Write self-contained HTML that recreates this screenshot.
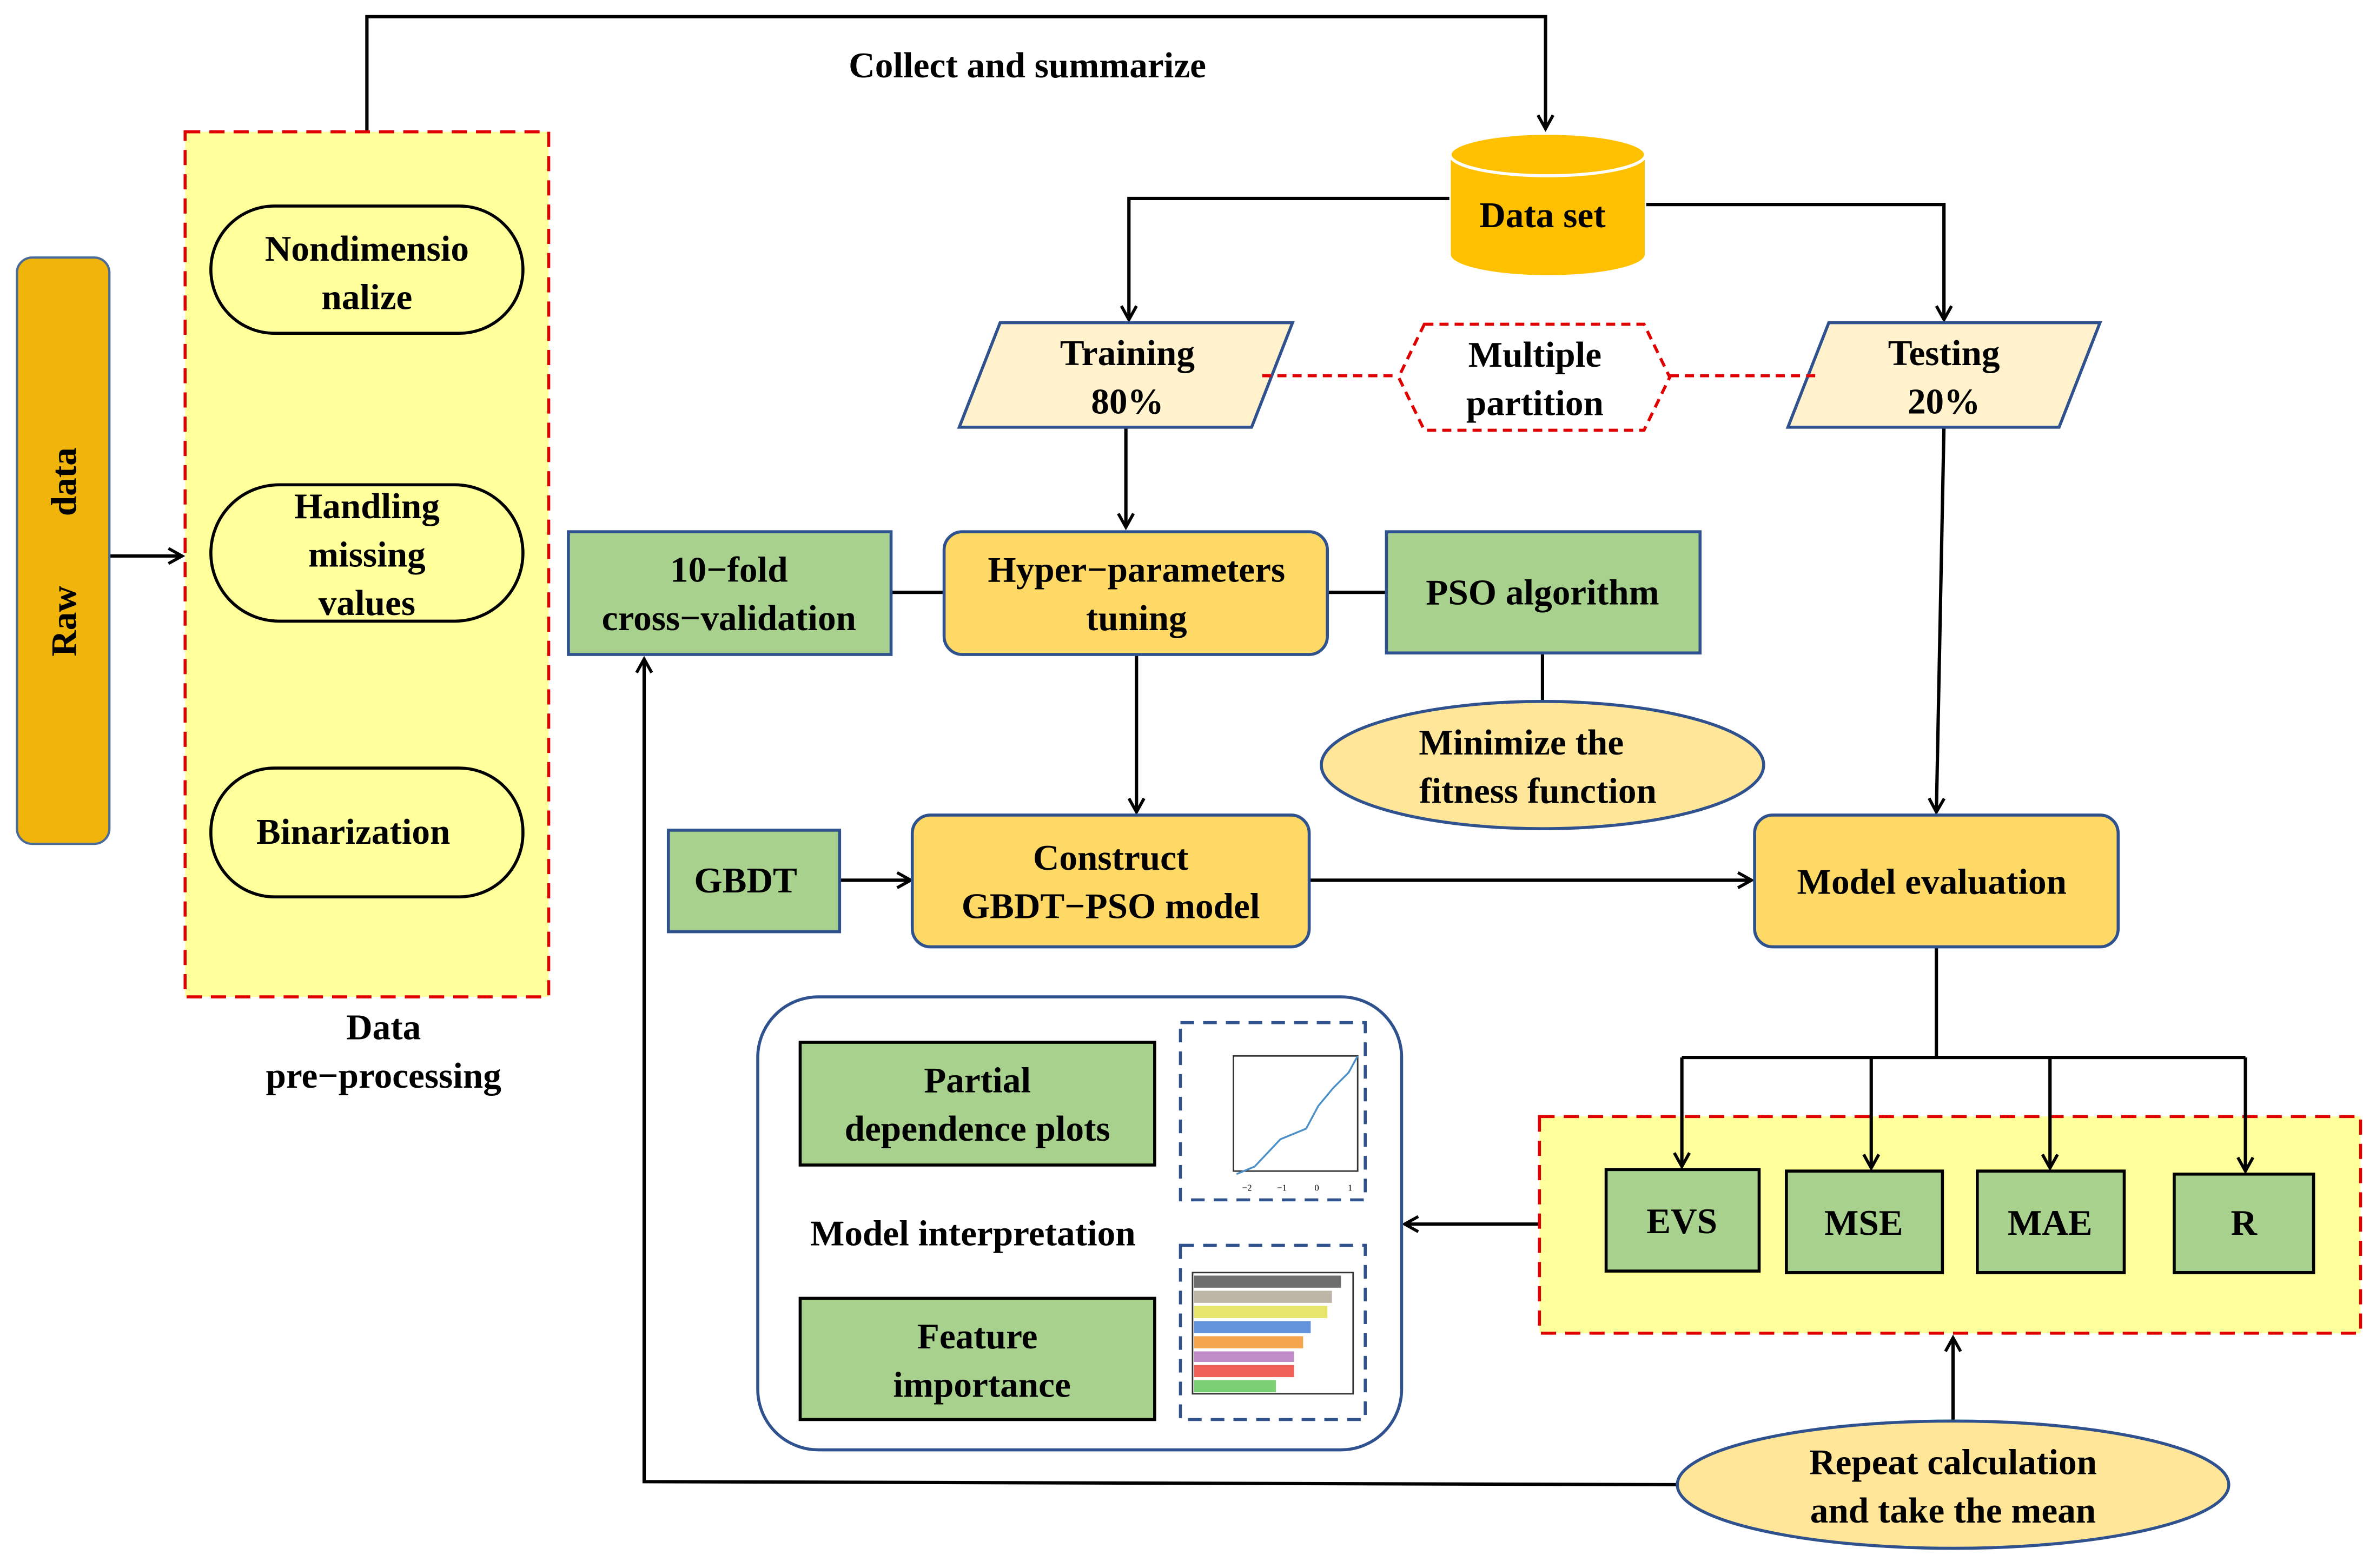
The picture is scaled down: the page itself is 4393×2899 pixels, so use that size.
<!DOCTYPE html>
<html><head><meta charset="utf-8"><style>
html,body{margin:0;padding:0;background:#fff;}
svg{display:block;}
text{font-family:"Liberation Serif",serif;font-weight:bold;font-size:24px;fill:#000;text-anchor:middle;}
</style></head><body>
<svg width="4393" height="2899" viewBox="0 0 1568 1035" xmlns="http://www.w3.org/2000/svg">
<defs>
<marker id="a" markerWidth="12" markerHeight="12" refX="10" refY="6" orient="auto" markerUnits="userSpaceOnUse">
<path d="M1,1 L10,6 L1,11" fill="none" stroke="#000" stroke-width="2"/></marker>
</defs>
<rect width="1568" height="1035" fill="#fff"/>
<g stroke="#000" stroke-width="2.2" fill="none">
<path d="M242,87 V11 H1020 V85" marker-end="url(#a)"/>
<path d="M72,367 H120" marker-end="url(#a)"/>
<path d="M957,131 H745 V211" marker-end="url(#a)"/>
<path d="M1086,135 H1283 V211" marker-end="url(#a)"/>
<path d="M743,282 V348" marker-end="url(#a)"/>
<path d="M750,432 V536" marker-end="url(#a)"/>
<path d="M588,391 H623 M876,391 H915 M1018,431 V463"/>
<path d="M554,581 H601" marker-end="url(#a)"/>
<path d="M864,581 H1156" marker-end="url(#a)"/>
<path d="M1283,282 L1278,536" marker-end="url(#a)"/>
<path d="M1278,625 V698 M1110,698 H1482"/>
<path d="M1016,808 H927" marker-end="url(#a)"/>
<path d="M1289,938 V883" marker-end="url(#a)"/>
<path d="M1107,980 L425,978 V435" marker-end="url(#a)"/>
</g>
<text x="678" y="51">Collect and summarize</text>
<!-- raw data -->
<rect x="11" y="170" width="61" height="387" rx="10" fill="#F0B40A" stroke="#4A6A9A" stroke-width="1.5"/>
<text transform="translate(50,410) rotate(-90)">Raw</text>
<text transform="translate(50,318) rotate(-90)">data</text>
<!-- preprocessing -->
<rect x="122" y="87" width="240" height="571" fill="#FFFF9C" stroke="#E00000" stroke-width="2" stroke-dasharray="10,6"/>
<rect x="139" y="136" width="206" height="84" rx="42" fill="#FFFF9C" stroke="#000" stroke-width="2"/>
<text x="242" y="172">Nondimensio</text><text x="242" y="204">nalize</text>
<rect x="139" y="320" width="206" height="90" rx="45" fill="#FFFF9C" stroke="#000" stroke-width="2"/>
<text x="242" y="342">Handling</text><text x="242" y="374">missing</text><text x="242" y="406">values</text>
<rect x="139" y="507" width="206" height="85" rx="42" fill="#FFFF9C" stroke="#000" stroke-width="2"/>
<text x="233" y="557">Binarization</text>
<text x="253" y="686">Data</text><text x="253" y="718">pre−processing</text>
<!-- data set -->
<path d="M957,102 V168 A64,14 0 0 0 1086,168 V102" fill="#FFC000" stroke="#fff" stroke-width="1"/>
<ellipse cx="1021.5" cy="102" rx="64.5" ry="14" fill="#FFC000" stroke="#fff" stroke-width="2"/>
<text x="1018" y="150">Data  set</text>
<!-- training/testing -->
<polygon points="660,213 853,213 826,282 633,282" fill="#FFF2CC" stroke="#2F528F" stroke-width="2"/>
<text x="744" y="241">Training</text><text x="744" y="273">80%</text>
<polygon points="1207,213 1386,213 1359,282 1180,282" fill="#FFF2CC" stroke="#2F528F" stroke-width="2"/>
<text x="1283" y="241">Testing</text><text x="1283" y="273">20%</text>
<path d="M833,248 H923 M1102,248 H1200" stroke="#E00000" stroke-width="2" stroke-dasharray="6,4"/>
<polygon points="940,214 1085,214 1102,249 1085,284 940,284 923,249" fill="#fff" stroke="#E00000" stroke-width="2" stroke-dasharray="6,4"/>
<text x="1013" y="242">Multiple</text><text x="1013" y="274">partition</text>
<!-- middle row -->
<rect x="375" y="351" width="213" height="81" fill="#A9D18E" stroke="#2F528F" stroke-width="2"/>
<text x="481" y="384">10−fold</text><text x="481" y="416">cross−validation</text>
<rect x="623" y="351" width="253" height="81" rx="12" fill="#FFD966" stroke="#2F528F" stroke-width="2"/>
<text x="750" y="384">Hyper−parameters</text><text x="750" y="416">tuning</text>
<rect x="915" y="351" width="207" height="80" fill="#A9D18E" stroke="#2F528F" stroke-width="2"/>
<text x="1018" y="399">PSO algorithm</text>
<ellipse cx="1018" cy="505" rx="146" ry="42" fill="#FFE699" stroke="#2F528F" stroke-width="2"/>
<text x="1004" y="498">Minimize the</text><text x="1015" y="530">fitness function</text>
<rect x="441" y="548" width="113" height="67" fill="#A9D18E" stroke="#2F528F" stroke-width="2"/>
<text x="492" y="589">GBDT</text>
<rect x="602" y="538" width="262" height="87" rx="12" fill="#FFD966" stroke="#2F528F" stroke-width="2"/>
<text x="733" y="574">Construct</text><text x="733" y="606">GBDT−PSO model</text>
<rect x="1158" y="538" width="240" height="87" rx="12" fill="#FFD966" stroke="#2F528F" stroke-width="2"/>
<text x="1275" y="590">Model evaluation</text>
<!-- metrics -->
<rect x="1016" y="737" width="542" height="143" fill="#FFFF9C" stroke="#E00000" stroke-width="2" stroke-dasharray="10,6"/>
<g stroke="#000" stroke-width="2.2" fill="none">
<path d="M1110,698 V770" marker-end="url(#a)"/>
<path d="M1235,698 V771" marker-end="url(#a)"/>
<path d="M1353,698 V771" marker-end="url(#a)"/>
<path d="M1482,698 V773" marker-end="url(#a)"/>
</g>
<rect x="1060" y="772" width="101" height="67" fill="#A9D18E" stroke="#000" stroke-width="2"/>
<text x="1110" y="814">EVS</text>
<rect x="1179" y="773" width="103" height="67" fill="#A9D18E" stroke="#000" stroke-width="2"/>
<text x="1230" y="815">MSE</text>
<rect x="1305" y="773" width="97" height="67" fill="#A9D18E" stroke="#000" stroke-width="2"/>
<text x="1353" y="815">MAE</text>
<rect x="1435" y="775" width="92" height="65" fill="#A9D18E" stroke="#000" stroke-width="2"/>
<text x="1481" y="815">R</text>
<!-- interpretation -->
<rect x="500" y="658" width="425" height="299" rx="40" fill="#fff" stroke="#2F528F" stroke-width="2"/>
<rect x="528" y="688" width="234" height="81" fill="#A9D18E" stroke="#000" stroke-width="2"/>
<text x="645" y="721">Partial</text><text x="645" y="753">dependence plots</text>
<text x="642" y="822">Model interpretation</text>
<rect x="528" y="857" width="234" height="80" fill="#A9D18E" stroke="#000" stroke-width="2"/>
<text x="645" y="890">Feature</text><text x="648" y="922">importance</text>
<rect x="779" y="675" width="122" height="117" fill="#fff" stroke="#2F528F" stroke-width="2" stroke-dasharray="9,6"/>
<rect x="814" y="697" width="82" height="76" fill="none" stroke="#333" stroke-width="1"/>
<polyline points="816,775 828,770 845,752 862,745 870,730 880,718 890,708 896,697" fill="none" stroke="#4A8FC8" stroke-width="1.2"/>
<text x="823" y="786" style="font-size:6px;font-weight:normal">−2</text><text x="846" y="786" style="font-size:6px;font-weight:normal">−1</text><text x="869" y="786" style="font-size:6px;font-weight:normal">0</text><text x="891" y="786" style="font-size:6px;font-weight:normal">1</text>
<rect x="779" y="822" width="122" height="115" fill="#fff" stroke="#2F528F" stroke-width="2" stroke-dasharray="9,6"/>
<rect x="787" y="840" width="106" height="80" fill="none" stroke="#333" stroke-width="1"/>
<rect x="788" y="842" width="97" height="8" fill="#6E6E6E"/>
<rect x="788" y="852" width="91" height="8" fill="#BDB5A6"/>
<rect x="788" y="862" width="88" height="8" fill="#E6E66A"/>
<rect x="788" y="872" width="77" height="8" fill="#6495DC"/>
<rect x="788" y="882" width="72" height="8" fill="#F5A54E"/>
<rect x="788" y="892" width="66" height="7" fill="#C08CC8"/>
<rect x="788" y="901" width="66" height="8" fill="#F06258"/>
<rect x="788" y="911" width="54" height="8" fill="#7ACF73"/>
<!-- repeat -->
<ellipse cx="1289" cy="980" rx="182" ry="42" fill="#FFE699" stroke="#2F528F" stroke-width="2"/>
<text x="1289" y="973">Repeat  calculation</text><text x="1289" y="1005">and take the mean</text>
</svg>
</body></html>
